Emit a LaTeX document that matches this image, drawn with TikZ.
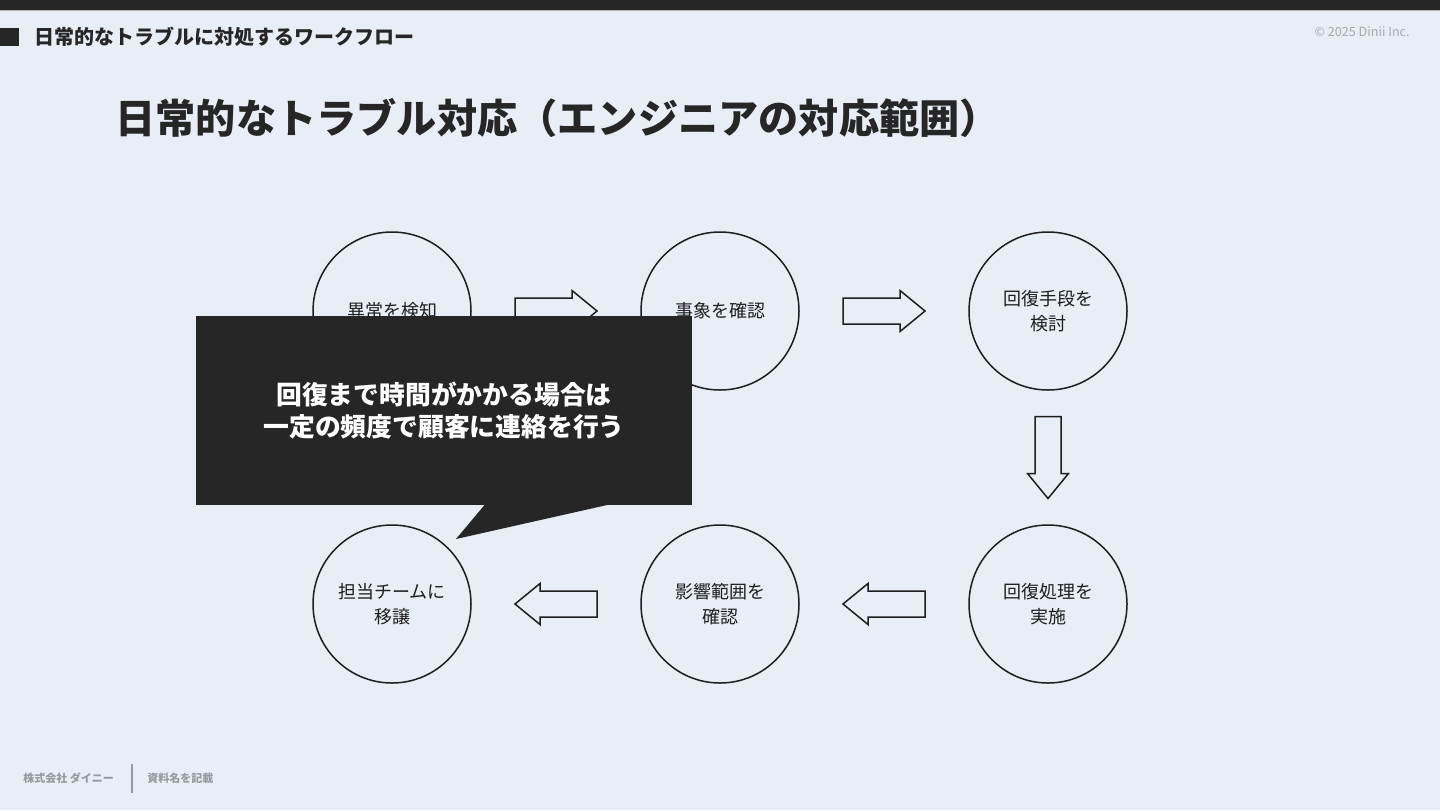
\documentclass[tikz,border=0pt]{standalone}
\usepackage{fontspec}
\setmainfont{Noto Sans CJK JP}
\usetikzlibrary{calc}
\definecolor{bg}{RGB}{233,237,246}
\definecolor{dark}{RGB}{38,38,38}
\definecolor{ink}{RGB}{30,30,30}
\definecolor{foot}{RGB}{150,153,160}
\tikzset{
  step circle/.style={circle,draw=ink,line width=0.75pt,fill=bg,minimum size=79pt,inner sep=0pt,
    align=center,font=\fontsize{9}{12.5}\selectfont,text=ink},
  arrowline/.style={draw=ink,line width=0.75pt,fill=bg,line join=miter},
  barrow/.pic={\path[arrowline] (-41,-13) -- (16,-13) -- (16,-20.5) -- (41,0) -- (16,20.5) -- (16,13) -- (-41,13) -- cycle;}
}
\begin{document}
\begin{tikzpicture}[x=0.5pt,y=-0.5pt]
\useasboundingbox (0,0) rectangle (1440,810);
\fill[bg] (0,0) rectangle (1440,810);
% top bar
\fill[dark] (0,0) rectangle (1440,9.5);
\draw[gray!60,line width=0.5pt] (0,10) -- (1440,10);
\fill[dark] (0,28) rectangle (19,46);
\node[anchor=west,inner sep=0pt,font=\bfseries\fontsize{10}{12}\selectfont,text=dark] (hdr) at (34,37) {日常的なトラブルに対処するワークフロー};
\node[anchor=east,inner sep=0pt,font=\fontsize{6.3}{8}\selectfont,text=foot!85] (copy) at (1410,32) {© 2025 Dinii Inc.};
% title
\node[anchor=west,inner sep=0pt,font=\bfseries\fontsize{20.1}{24}\selectfont,text=dark] (title) at (115,118) {日常的なトラブル対応（エンジニアの対応範囲）};
% circles
\node[step circle] (c1) at (392,311) {異常を検知};
\node[step circle] (c2) at (720,311) {事象を確認};
\node[step circle] (c3) at (1048,311) {回復手段を\\検討};
\node[step circle] (c4) at (1048,604) {回復処理を\\実施};
\node[step circle] (c5) at (720,604) {影響範囲を\\確認};
\node[step circle] (c6) at (392,604) {担当チームに\\移譲};
% block arrows
\pic at ($(c1)!0.5!(c2)$) {barrow};
\pic at ($(c2)!0.5!(c3)$) {barrow};
\pic[rotate=-90] at ($(c3)!0.5!(c4)$) {barrow};
\pic[rotate=180] at ($(c4)!0.5!(c5)$) {barrow};
\pic[rotate=180] at ($(c5)!0.5!(c6)$) {barrow};
% callout
\node[fill=dark,minimum width=248pt,minimum height=94.5pt,inner sep=0pt,align=center,
  text=white,font=\bfseries\fontsize{12.9}{16}\selectfont] (call) at (444,410.5)
  {回復まで時間がかかる場合は\\一定の頻度で顧客に連絡を行う};
\coordinate (tip) at (456,539);
\fill[dark] ($(call.south west)+(289,-0.5)$) -- (tip) -- ($(call.south west)+(412,-0.5)$) -- cycle;
% footer
\node[anchor=west,inner sep=0pt,font=\bfseries\fontsize{5.5}{7}\selectfont,text=foot] (co) at (23,778) {株式会社 ダイニー};
\draw[foot,line width=0.8pt] (132,764) -- (132,793);
\node[anchor=west,inner sep=0pt,font=\bfseries\fontsize{5.5}{7}\selectfont,text=foot] (doc) at (147,778) {資料名を記載};
\end{tikzpicture}
\end{document}
